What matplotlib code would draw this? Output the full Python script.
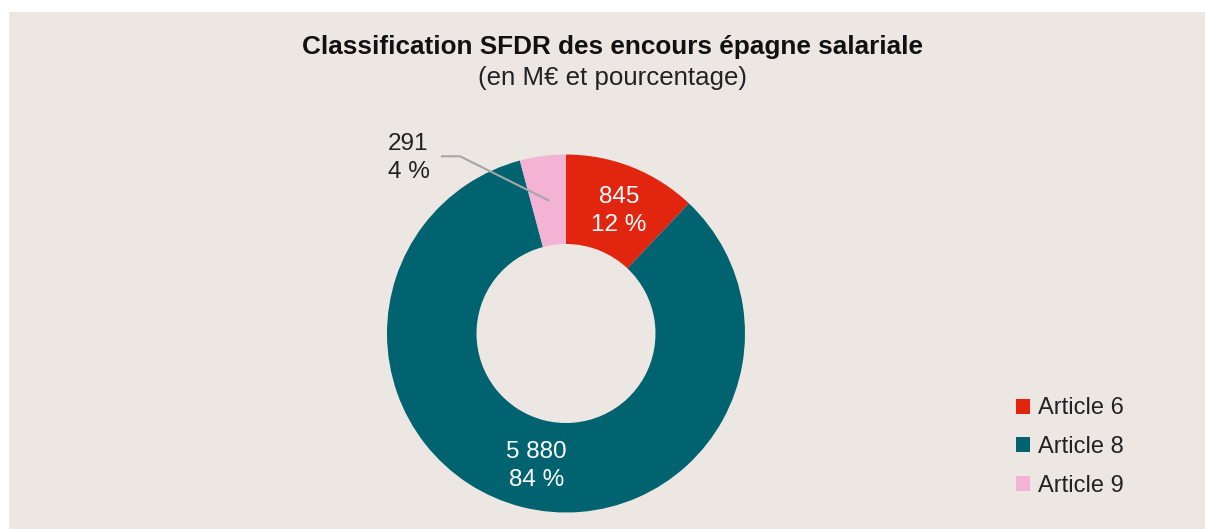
import numpy as np
import matplotlib
matplotlib.use('Agg')
import matplotlib.pyplot as plt
from matplotlib.patches import Rectangle, Patch

plt.rcParams['font.family'] = ['Liberation Sans', 'DejaVu Sans']

# données
categories = ['Article 6', 'Article 8', 'Article 9']
encours = [845, 5880, 291]
pourcentages = [12, 84, 4]
couleurs = ['#e2250f', '#00636f', '#f2b3d4']

W, H = 1205, 529
fig = plt.figure(figsize=(W / 100, H / 100), dpi=100)
fig.patch.set_facecolor('white')

# fond gris clair
fig.patches.append(Rectangle((9 / W, 0), 1 - 9 / W, (H - 12) / H,
                             transform=fig.transFigure, facecolor='#ede7e4',
                             edgecolor='none', zorder=-10))

fig.text(612 / W, 1 - 47 / H, 'Classification SFDR des encours épagne salariale',
         ha='center', va='center', fontsize=18.8, fontweight='bold', color='#111111')
fig.text(612 / W, 1 - 78 / H, '(en M€ et pourcentage)',
         ha='center', va='center', fontsize=18.6, color='#222222')

# axes du donut : centre (566, 333.5), rayon 179 px
cx, cy, r = 566, 333.5, 179
box = 200
ax = fig.add_axes([(cx - box) / W, (H - cy - box) / H, 2 * box / W, 2 * box / H])

wedges, _ = ax.pie(encours, colors=couleurs, startangle=90, counterclock=False,
                   radius=1, wedgeprops=dict(width=0.5, edgecolor='none'))
ax.set_xlim(-box / r, box / r)
ax.set_ylim(-box / r, box / r)
ax.axis('off')

def fmt(v):
    return f'{v:,}'.replace(',', ' ')

for w, v, p in zip(wedges, encours, pourcentages):
    ang = np.deg2rad((w.theta1 + w.theta2) / 2)
    x, y = 0.75 * np.cos(ang), 0.75 * np.sin(ang)
    label = f'{fmt(v)}\n{p} %'
    if p < 5:
        # étiquette extérieure avec trait
        ax.plot([-0.693, -0.592, x], [0.99, 0.99, y], color='#a6a6a6', lw=1.5)
        ax.text(-0.994, 0.98, label, ha='left', va='center', fontsize=17.5,
                color='#222222', linespacing=1.35)
    else:
        ax.text(x + 0.02, y - 0.015, label, ha='center', va='center', fontsize=17.5,
                color='white', linespacing=1.35)

handles = [Patch(facecolor=c, edgecolor='none') for c in couleurs]
fig.legend(handles, categories, loc='center left', bbox_to_anchor=(995 / W, 1 - 447 / H),
           frameon=False, fontsize=17, handlelength=0.6, handleheight=0.6,
           handletextpad=0.3, labelspacing=0.7, labelcolor='#222222')

fig.savefig('out.png', dpi=100, facecolor=fig.get_facecolor())
